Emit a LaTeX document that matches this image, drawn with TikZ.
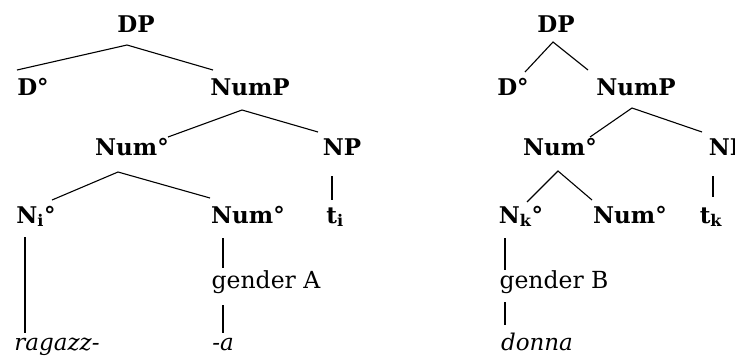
\documentclass[tikz,border=0pt]{standalone}
\usepackage{fontspec}
\setmainfont{DejaVu Serif}
\begin{document}
\begin{tikzpicture}[x=1pt,y=-1pt,
  every node/.style={inner sep=0pt,anchor=base},
  cat/.style={font=\fontsize{23}{26}\selectfont\bfseries},
  feat/.style={font=\fontsize{23.5}{26}\selectfont},
  word/.style={font=\fontsize{23}{26}\selectfont\itshape},
  branch/.style={line width=1.1pt}]
\useasboundingbox[fill=white] (0,0) rectangle (735,357);

% ---- first tree: ragazz- -a ----
\node[cat]  (dpA)   at (136,32)  {DP};
\node[cat]  (dA)    at (33,95)   {D°};
\node[cat]  (numpA) at (250,95)  {NumP};
\node[cat]  (numA)  at (132,155) {Num°};
\node[cat]  (npA)   at (342,155) {NP};
\node[cat]  (niA)   at (36,223)  {N\textsubscript{i}°};
\node[cat]  (numbA) at (248,223) {Num°};
\node[cat]  (tiA)   at (335,223) {t\textsubscript{i}};
\node[feat] (genA)  at (266,288) {gender A};
\node[word] (ragA)  at (57,350)  {ragazz-};
\node[word] (aA)    at (223,350) {-a};

\draw[branch] ([shift={(-16,-25)}]dA.base) -- ([shift={(-9,13)}]dpA.base)
              -- ([shift={(-37,-25)}]numpA.base);
\draw[branch] ([shift={(36,-18)}]numA.base) -- ([shift={(-8,15)}]numpA.base)
              -- ([shift={(-24,-23)}]npA.base);
\draw[branch] ([shift={(16,-23)}]niA.base) -- ([shift={(-14,17)}]numA.base)
              -- ([shift={(-38,-25)}]numbA.base);
\draw[branch] ([shift={(-10,21)}]npA.base) -- ([shift={(-3,-23)}]tiA.base);
\draw[branch] ([shift={(-11,14)}]niA.base) -- ([shift={(-32,-17)}]ragA.base);
\draw[branch] ([shift={(-25,15)}]numbA.base) -- ([shift={(-43,-20)}]genA.base);
\draw[branch] ([shift={(-43,17)}]genA.base) -- ([shift={(0,-17)}]aA.base);

% ---- second tree: donna ----
\node[cat]  (dpB)   at (556,32)  {DP};
\node[cat]  (dB)    at (513,95)  {D°};
\node[cat]  (numpB) at (636,95)  {NumP};
\node[cat]  (numB)  at (560,155) {Num°};
\node[cat]  (npB)   at (728,155) {NP};
\node[cat]  (nkB)   at (521,223) {N\textsubscript{k}°};
\node[cat]  (numbB) at (630,223) {Num°};
\node[cat]  (tkB)   at (711,223) {t\textsubscript{k}};
\node[feat] (genB)  at (554,288) {gender B};
\node[word] (donB)  at (537,350) {donna};

\draw[branch] ([shift={(12,-23)}]dB.base) -- ([shift={(-3,10)}]dpB.base)
              -- ([shift={(-48,-25)}]numpB.base);
\draw[branch] ([shift={(30,-18)}]numB.base) -- ([shift={(-4,13)}]numpB.base)
              -- ([shift={(-26,-23)}]npB.base);
\draw[branch] ([shift={(6,-21)}]nkB.base) -- ([shift={(-2,16)}]numB.base)
              -- ([shift={(-38,-23)}]numbB.base);
\draw[branch] ([shift={(-15,21)}]npB.base) -- ([shift={(2,-26)}]tkB.base);
\draw[branch] ([shift={(-16,15)}]nkB.base) -- ([shift={(-49,-18)}]genB.base);
\draw[branch] ([shift={(-49,14)}]genB.base) -- ([shift={(-32,-25)}]donB.base);
\end{tikzpicture}
\end{document}
